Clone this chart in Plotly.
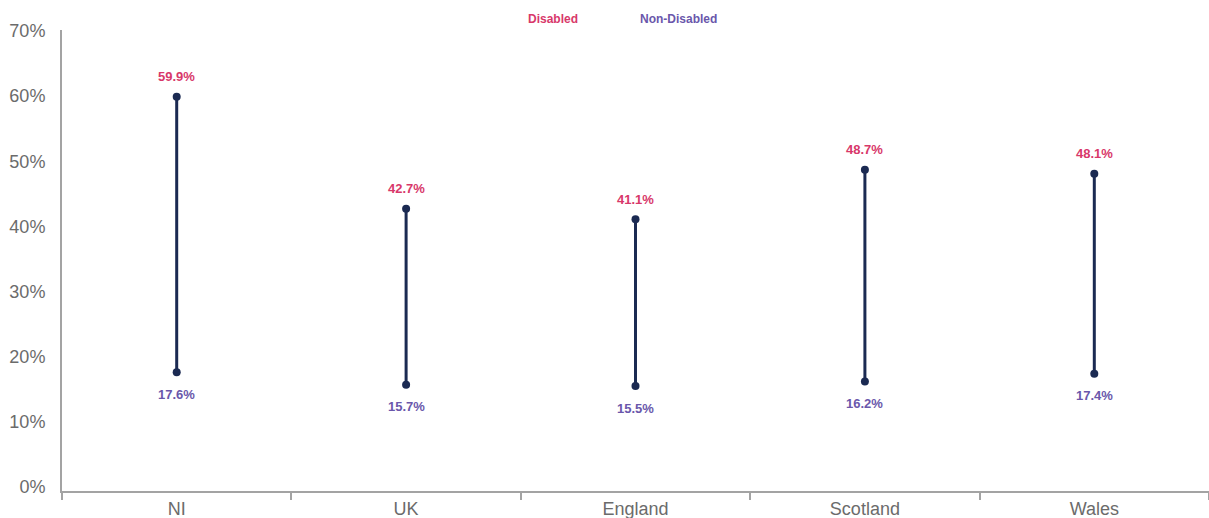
import plotly.graph_objects as go

categories = ["NI", "UK", "England", "Scotland", "Wales"]
disabled = [59.9, 42.7, 41.1, 48.7, 48.1]
non_disabled = [17.6, 15.7, 15.5, 16.2, 17.4]
y_ticks = [0, 10, 20, 30, 40, 50, 60, 70]
y_tick_labels = [f"{v}%" for v in y_ticks]

RED = "#d8386a"
PURPLE = "#6a57ab"
NAVY = "#1b2a52"
AXIS = "#a3a3a3"
TEXT = "#6b6b6b"
FONT = "Liberation Sans, Arial, sans-serif"

fig = go.Figure()
for c, d, n in zip(categories, disabled, non_disabled):
    fig.add_trace(go.Scatter(
        x=[c, c], y=[n, d], mode="lines+markers",
        line=dict(color=NAVY, width=3),
        marker=dict(color=NAVY, size=8),
        showlegend=False, hoverinfo="skip"))
    fig.add_annotation(x=c, y=d, text=f"<b>{d}%</b>", showarrow=False,
                       yshift=20, font=dict(color=RED, size=13, family=FONT))
    fig.add_annotation(x=c, y=n, text=f"<b>{n}%</b>", showarrow=False,
                       yshift=-22, font=dict(color=PURPLE, size=13, family=FONT))

fig.add_annotation(xref="paper", yref="paper", x=(553 - 62) / 1147, y=1, yshift=12,
                   text="<b>Disabled</b>", showarrow=False,
                   font=dict(color=RED, size=12, family=FONT))
fig.add_annotation(xref="paper", yref="paper", x=(678 - 62) / 1147, y=1, yshift=12,
                   text="<b>Non-Disabled</b>", showarrow=False,
                   font=dict(color=PURPLE, size=12, family=FONT))
for a in fig.layout.annotations[-2:]:
    a.yshift = 20

fig.update_layout(
    width=1209, height=518,
    margin=dict(l=62, r=0, t=30, b=27),
    paper_bgcolor="white", plot_bgcolor="white",
    font=dict(family=FONT),
    xaxis=dict(
        type="category", categoryorder="array", categoryarray=categories,
        range=[-0.5, 4.5], showgrid=False, zeroline=False,
        showline=True, linecolor=AXIS, linewidth=2,
        ticks="outside", tickson="boundaries", ticklen=7, tickwidth=2, tickcolor=AXIS,
        tickfont=dict(size=18, color=TEXT),
    ),
    yaxis=dict(
        range=[-0.61, 70.15], tickvals=y_ticks, ticktext=y_tick_labels,
        showgrid=False, zeroline=False,
        showline=True, linecolor=AXIS, linewidth=2,
        ticks="", ticklabelstandoff=11,
        tickfont=dict(size=18, color=TEXT),
    ),
)

fig.write_html("out.html")
